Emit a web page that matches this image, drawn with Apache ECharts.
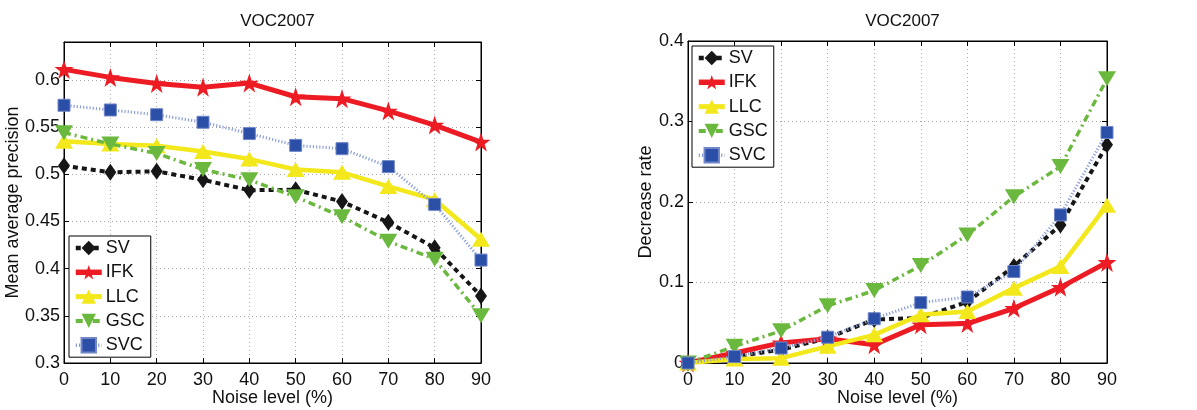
<!DOCTYPE html>
<html>
<head>
<meta charset="utf-8">
<script src="https://cdn.jsdelivr.net/npm/echarts@6/dist/echarts.min.js"></script>
<style>html,body{margin:0;padding:0;background:#fff}#c{width:1197px;height:410px}</style>
</head>
<body>
<div id="c"></div>
<script>
const noise = [0, 10, 20, 30, 40, 50, 60, 70, 80, 90];
const seriesNames = ['SV', 'IFK', 'LLC', 'GSC', 'SVC'];
// Left: Mean average precision
const mapSV  = [0.509, 0.502, 0.503, 0.494, 0.483, 0.4835, 0.471, 0.449, 0.422, 0.371];
const mapIFK = [0.611, 0.6025, 0.596, 0.592, 0.5965, 0.582, 0.580, 0.567, 0.552, 0.534];
const mapLLC = [0.535, 0.532, 0.530, 0.524, 0.516, 0.505, 0.502, 0.487, 0.473, 0.431];
const mapGSC = [0.544, 0.532, 0.522, 0.505, 0.494, 0.476, 0.455, 0.429, 0.410, 0.350];
const mapSVC = [0.573, 0.568, 0.563, 0.555, 0.543, 0.5305, 0.527, 0.508, 0.468, 0.409];
// Right: Decrease rate
const drSV  = [0, 0.008, 0.0165, 0.031, 0.054, 0.056, 0.076, 0.120, 0.1715, 0.271];
const drIFK = [0, 0.0124, 0.025, 0.030, 0.0227, 0.0475, 0.049, 0.068, 0.094, 0.125];
const drLLC = [0, 0.005, 0.006, 0.0207, 0.035, 0.060, 0.064, 0.093, 0.120, 0.196];
const drGSC = [0, 0.0207, 0.040, 0.071, 0.090, 0.121, 0.159, 0.2066, 0.244, 0.353];
const drSVC = [0, 0.008, 0.0186, 0.032, 0.055, 0.075, 0.082, 0.1136, 0.184, 0.2864];
const titles = ['VOC2007', 'VOC2007'];
const yNames = ['Mean average precision', 'Decrease rate'];
const xName = 'Noise level (%)';

const FONT = 'Liberation Sans, Arial, Helvetica, sans-serif';
const STAR = 'path://M50,0 L61.8,34.5 L97.6,34.5 L68.6,55.9 L79.4,90.5 L50,69.1 L20.6,90.5 L31.4,55.9 L2.4,34.5 L38.2,34.5 Z';

const styles = {
  SV:  {color: '#161616', width: 4, type: [5, 4], symbol: 'diamond', size: [12, 17], rotate: 0, z: 2},
  IFK: {color: '#ed1c24', width: 5, type: 'solid', symbol: STAR, size: 19, rotate: 0, z: 3},
  LLC: {color: '#f2e81c', width: 4.5, type: 'solid', symbol: 'triangle', size: [18, 15], rotate: 0, z: 4},
  GSC: {color: '#6ab83e', width: 3.5, type: [7, 4, 2, 4], symbol: 'triangle', size: [18, 15], rotate: 180, z: 5},
  SVC: {color: '#2b4ea6', lineColor: '#8b9ed8', width: 3, type: [1.2, 2], symbol: 'rect', size: 12, rotate: 0, z: 6}
};

const grids = [
  {left: 64, top: 42, width: 417, height: 321},
  {left: 688, top: 41, width: 419, height: 322}
];
const yCfg = [
  {min: 0.3, max: 0.64, interval: 0.05},
  {min: 0, max: 0.4, interval: 0.1}
];
const dataSets = [
  {SV: mapSV, IFK: mapIFK, LLC: mapLLC, GSC: mapGSC, SVC: mapSVC},
  {SV: drSV, IFK: drIFK, LLC: drLLC, GSC: drGSC, SVC: drSVC}
];

const fmt = v => String(+(+v).toFixed(2));

const xAxis = [], yAxis = [], series = [], title = [], legend = [];
grids.forEach((g, i) => {
  const gridLineStyle = {color: '#a8a8a8', width: 1, type: [1, 3]};
  xAxis.push({
    gridIndex: i, type: 'value', min: 0, max: 90, interval: 10, position: 'bottom',
    name: xName, nameLocation: 'middle', nameGap: 26, nameMoveOverlap: false,
    nameTextStyle: {fontFamily: FONT, fontSize: 18, color: '#111'},
    axisLine: {show: true, onZero: false, lineStyle: {color: '#000', width: 1}},
    axisTick: {show: true, inside: true, length: 5, lineStyle: {color: '#000'}},
    axisLabel: {fontFamily: FONT, fontSize: 18, color: '#111', margin: 8},
    splitLine: {show: true, lineStyle: gridLineStyle}
  });
  xAxis.push({
    gridIndex: i, type: 'value', min: 0, max: 90, interval: 10, position: 'top',
    axisLine: {show: true, onZero: false, lineStyle: {color: '#000', width: 1}},
    axisTick: {show: true, inside: true, length: 5, lineStyle: {color: '#000'}},
    axisLabel: {show: false}, splitLine: {show: false}
  });
  yAxis.push({
    gridIndex: i, type: 'value', min: yCfg[i].min, max: yCfg[i].max, interval: yCfg[i].interval, position: 'left',
    name: yNames[i], nameLocation: 'middle', nameGap: i === 0 ? 42 : 33, nameRotate: 90, nameMoveOverlap: false,
    nameTextStyle: {fontFamily: FONT, fontSize: 18, color: '#111'},
    axisLine: {show: true, onZero: false, lineStyle: {color: '#000', width: 1}},
    axisTick: {show: true, inside: true, length: 5, lineStyle: {color: '#000'}},
    axisLabel: {fontFamily: FONT, fontSize: 18, color: '#111', margin: 4, formatter: fmt, showMaxLabel: i === 1},
    splitLine: {show: true, lineStyle: gridLineStyle}
  });
  yAxis.push({
    gridIndex: i, type: 'value', min: yCfg[i].min, max: yCfg[i].max, interval: yCfg[i].interval, position: 'right',
    axisLine: {show: true, onZero: false, lineStyle: {color: '#000', width: 1}},
    axisTick: {show: true, inside: true, length: 5, lineStyle: {color: '#000'}},
    axisLabel: {show: false}, splitLine: {show: false}
  });
  title.push({
    text: titles[i], left: g.left + g.width / 2, top: 8, textAlign: 'center',
    textStyle: {fontFamily: FONT, fontSize: 17, fontWeight: 'normal', color: '#111'}
  });
  seriesNames.forEach(n => {
    const s = styles[n];
    series.push({
      name: n, type: 'line', xAxisIndex: i * 2, yAxisIndex: i * 2,
      data: noise.map((x, k) => [x, dataSets[i][n][k]]),
      symbol: s.symbol, symbolSize: s.size, symbolRotate: s.rotate, showAllSymbol: true,
      itemStyle: {color: s.color, borderColor: n === 'SVC' ? '#6f86c9' : s.color, borderWidth: n === 'SVC' ? 1 : 0},
      lineStyle: {color: s.lineColor || s.color, width: s.width, type: s.type},
      z: s.z, animation: false, silent: true
    });
  });
});
const legendData = seriesNames.map(n => ({
  name: n,
  lineStyle: {width: styles[n].width + 0.5, color: styles[n].lineColor || styles[n].color, type: styles[n].type}
}));
[[69, 236], [692, 46]].forEach(([l, t]) => legend.push({
  data: legendData, orient: 'vertical', left: l, top: t, itemWidth: 26, itemHeight: 18, itemGap: 6.3,
  padding: [3, 6, 3, 4], borderColor: '#000', borderWidth: 1, backgroundColor: '#fff',
  textStyle: {fontFamily: FONT, fontSize: 18, color: '#111', padding: [0, 0, 0, -1]}, selectedMode: false
}));

const chart = echarts.init(document.getElementById('c'), null, {renderer: 'canvas'});
chart.setOption({
  animation: false, backgroundColor: '#fff',
  title, legend,
  grid: grids.map(g => Object.assign({show: true, borderColor: '#000', borderWidth: 1, backgroundColor: 'transparent', containLabel: false, outerBoundsMode: 'none'}, g)),
  xAxis, yAxis, series
});
</script>
</body>
</html>
